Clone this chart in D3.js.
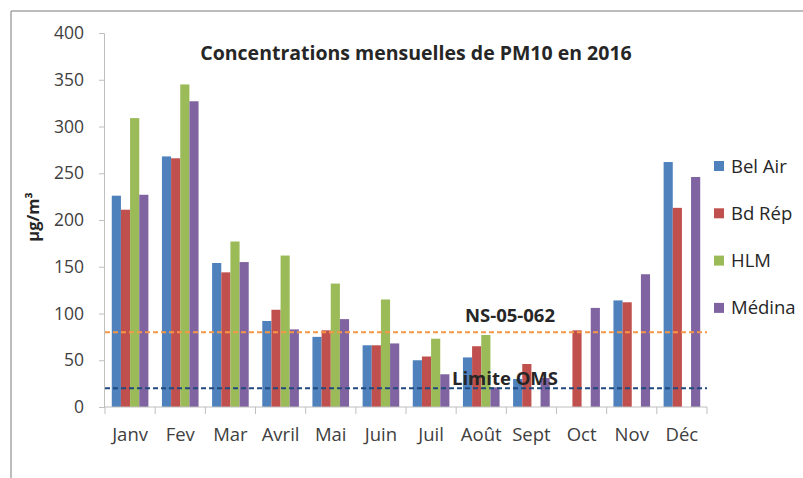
<!DOCTYPE html>
<html>
<head>
<meta charset="utf-8">
<script src="https://cdn.jsdelivr.net/npm/d3@7"></script>
<style>
  html, body { margin: 0; padding: 0; background: #fff; }
  svg { display: block; font-family: "Open Sans", "Liberation Sans", sans-serif; }
</style>
</head>
<body>
<svg id="chart" width="803" height="478"></svg>
<script>
const months = ["Janv", "Fev", "Mar", "Avril", "Mai", "Juin", "Juil", "Août", "Sept", "Oct", "Nov", "Déc"];
const seriesNames = ["Bel Air", "Bd Rép", "HLM", "Médina"];
const belAir = [226, 268, 154, 92, 75, 66, 50, 53, 30, null, 114, 262];
const bdRep  = [211, 266, 144, 104, 82, 66, 54, 65, 46, 82, 112, 213];
const hlm    = [309, 345, 177, 162, 132, 115, 73, 77, null, null, null, null];
const medina = [227, 327, 155, 83, 94, 68, 35, 21, 31, 106, 142, 246];
const yTicks = [0, 50, 100, 150, 200, 250, 300, 350, 400];
const thresholds = [
  { label: "NS-05-062", value: 80 },
  { label: "Limite OMS", value: 20 }
];
const title = "Concentrations mensuelles de PM10 en 2016";
const yTitle = "µg/m³";

const colors = ["#4F81BD", "#C0504D", "#9BBB59", "#8064A2"];
const lineColors = ["#F79646", "#1F497D"];
const seriesValues = [belAir, bdRep, hlm, medina];

const svg = d3.select("#chart");

// outer frame (top and left)
svg.append("line").attr("x1", 11).attr("x2", 803).attr("y1", 11).attr("y2", 11)
  .attr("stroke", "#a6a6a6").attr("stroke-width", 1.5);
svg.append("line").attr("x1", 11).attr("x2", 11).attr("y1", 11).attr("y2", 478)
  .attr("stroke", "#a6a6a6").attr("stroke-width", 1.5);

const x0 = d3.scaleBand().domain(months).range([105, 707]).paddingInner(0.27).paddingOuter(0.135);
const x1 = d3.scaleBand().domain(seriesNames).range([0, x0.bandwidth()]).padding(0);
const y = d3.scaleLinear().domain([0, 400]).range([407, 33]);

// y axis
const yAxis = svg.append("g").attr("transform", "translate(104,0)")
  .call(d3.axisLeft(y).tickValues(yTicks).tickSize(5).tickPadding(15));
yAxis.select(".domain").attr("stroke", "#bfbfbf");
yAxis.selectAll(".tick line").attr("stroke", "#bfbfbf");
yAxis.selectAll(".tick text").attr("fill", "#404040").style("font-size", "17.5px")
  .style("font-family", "'Open Sans', sans-serif");

// bars
const groups = svg.append("g").selectAll("g").data(months).join("g")
  .attr("transform", m => `translate(${x0(m)},0)`);
groups.selectAll("rect")
  .data((m, i) => seriesNames.map((s, j) => ({ s, j, v: seriesValues[j][i] })).filter(d => d.v != null))
  .join("rect")
  .attr("x", d => x1(d.s))
  .attr("width", x1.bandwidth())
  .attr("y", d => y(d.v))
  .attr("height", d => y(0) - y(d.v))
  .attr("fill", d => colors[d.j]);

// x axis
const xAxisG = svg.append("g").attr("transform", "translate(0,407)");
xAxisG.append("line").attr("x1", 104).attr("x2", 707).attr("stroke", "#bfbfbf");
const boundaries = months.map(m => x0(m) - x0.step() * x0.paddingOuter()).concat([707]);
xAxisG.selectAll("line.tk").data(boundaries).join("line").attr("class", "tk")
  .attr("x1", d => d).attr("x2", d => d).attr("y1", 0).attr("y2", 7).attr("stroke", "#bfbfbf");
xAxisG.selectAll("text").data(months).join("text")
  .attr("x", m => x0(m) + x0.bandwidth() / 2)
  .attr("y", 34)
  .attr("text-anchor", "middle")
  .attr("fill", "#404040")
  .style("font-size", "18.5px")
  .text(m => m);

// threshold lines
thresholds.forEach((t, i) => {
  svg.append("line").attr("x1", 105).attr("x2", 707)
    .attr("y1", y(t.value)).attr("y2", y(t.value))
    .attr("stroke", lineColors[i]).attr("stroke-width", 2)
    .attr("stroke-dasharray", "5,3");
});
svg.append("text").attr("x", 510).attr("y", y(thresholds[0].value) - 10)
  .attr("text-anchor", "middle").attr("font-weight", "bold").attr("fill", "#262626")
  .style("font-size", "18.5px").text(thresholds[0].label);
svg.append("text").attr("x", 505).attr("y", y(thresholds[1].value) - 3)
  .attr("text-anchor", "middle").attr("font-weight", "bold").attr("fill", "#262626")
  .style("font-size", "18.5px").text(thresholds[1].label);

// title
svg.append("text").attr("x", 416).attr("y", 60).attr("text-anchor", "middle")
  .attr("font-weight", "bold").attr("fill", "#262626").style("font-size", "19.5px")
  .text(title);

// y title
svg.append("text").attr("transform", "translate(39,217) rotate(-90)")
  .attr("text-anchor", "middle").attr("font-weight", "bold").attr("fill", "#262626")
  .style("font-size", "16.5px").text(yTitle);

// legend
const legend = svg.append("g").selectAll("g").data(seriesNames).join("g")
  .attr("transform", (d, i) => `translate(714,${166 + i * 47.3})`);
legend.append("rect").attr("x", 0).attr("y", -5).attr("width", 10).attr("height", 10)
  .attr("fill", (d, i) => colors[i]);
legend.append("text").attr("x", 17).attr("y", 6.5).attr("fill", "#262626")
  .style("font-size", "18.5px").text(d => d);
</script>
</body>
</html>
